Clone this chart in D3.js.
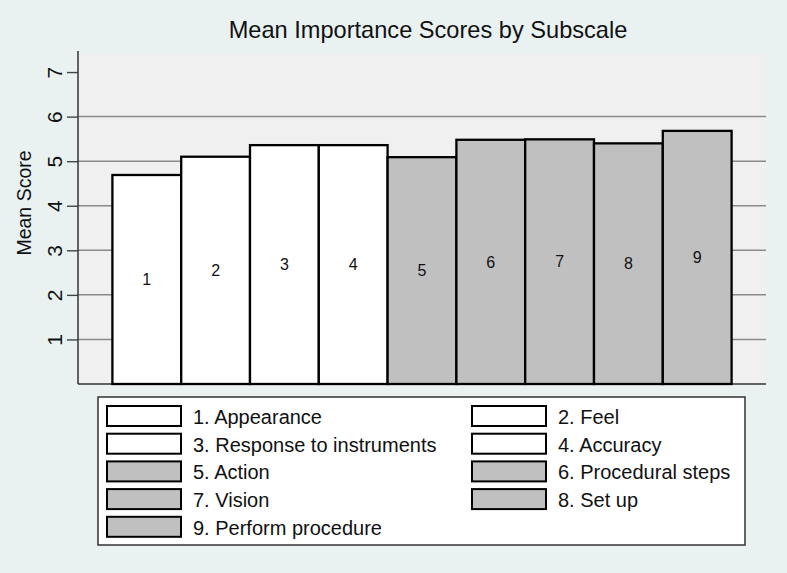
<!DOCTYPE html>
<html>
<head>
<meta charset="utf-8">
<script src="https://cdn.jsdelivr.net/npm/d3@7"></script>
<style>
  html, body { margin: 0; padding: 0; background: #e9f1f1; }
  svg { display: block; font-family: "Liberation Sans", Arial, Helvetica, sans-serif; }
</style>
</head>
<body>
<svg id="chart" width="787" height="573"></svg>
<script>
/* ------------------------------- data -------------------------------- */
const subscales  = ['Appearance', 'Feel', 'Response to instruments', 'Accuracy',
                    'Action', 'Procedural steps', 'Vision', 'Set up', 'Perform procedure'];
const meanScores = [4.69, 5.10, 5.36, 5.36, 5.09, 5.48, 5.49, 5.40, 5.68];
const groups     = ['first', 'first', 'first', 'first', 'second', 'second', 'second', 'second', 'second'];
const yTicks     = [1, 2, 3, 4, 5, 6, 7];
const gridTicks  = [1, 2, 3, 4, 5, 6];

const rows = subscales.map((name, i) => ({
  id: i + 1, name, value: meanScores[i], group: groups[i]
}));

/* ------------------------------- layout ------------------------------ */
const svg    = d3.select('#chart');
const PLOT   = {left: 78, right: 766, top: 52, bottom: 384};
const fillOf = d3.scaleOrdinal().domain(['first', 'second']).range(['#ffffff', '#c0c0c0']);

const xScale = d3.scaleBand()
  .domain(rows.map(d => d.id))
  .range([PLOT.left, PLOT.right])
  .paddingInner(0)
  .paddingOuter(0.5);
const yScale = d3.scaleLinear().domain([0, 7.45]).range([PLOT.bottom, PLOT.top]);

// plot region background
svg.append('rect')
  .attr('x', PLOT.left).attr('y', PLOT.top + 2)
  .attr('width', PLOT.right - PLOT.left).attr('height', PLOT.bottom - PLOT.top - 2)
  .attr('fill', '#f0f0f0');

// title
svg.append('text')
  .attr('x', 428).attr('y', 38)
  .attr('text-anchor', 'middle')
  .attr('font-size', 23.6)
  .attr('fill', '#111')
  .text('Mean Importance Scores by Subscale');

/* ------------------------------- axes & grid ------------------------- */
svg.append('g')
  .selectAll('line')
  .data(gridTicks)
  .join('line')
  .attr('x1', PLOT.left).attr('x2', PLOT.right)
  .attr('y1', d => yScale(d)).attr('y2', d => yScale(d))
  .attr('stroke', '#8a8a8a')
  .attr('stroke-width', 1.5);

const yAxisG = svg.append('g')
  .attr('transform', `translate(${PLOT.left},0)`)
  .call(d3.axisLeft(yScale).tickValues(yTicks).tickSize(11).tickPadding(4).tickFormat(d3.format('d')));
yAxisG.select('.domain').remove();
yAxisG.attr('font-size', null).attr('font-family', null);
yAxisG.selectAll('.tick line').attr('stroke', '#444').attr('stroke-width', 1.4);
yAxisG.selectAll('.tick text')
  .attr('x', null).attr('dy', null)
  .attr('text-anchor', 'middle')
  .attr('transform', 'translate(-16,0) rotate(-90)')
  .style('font-size', '21px')
  .attr('fill', '#111');

svg.append('line')
  .attr('x1', PLOT.left).attr('x2', PLOT.left)
  .attr('y1', PLOT.top - 1).attr('y2', PLOT.bottom)
  .attr('stroke', '#333').attr('stroke-width', 1.5);
svg.append('line')
  .attr('x1', PLOT.left).attr('x2', PLOT.right)
  .attr('y1', PLOT.bottom).attr('y2', PLOT.bottom)
  .attr('stroke', '#333').attr('stroke-width', 1.5);

svg.append('text')
  .attr('transform', 'translate(31,203) rotate(-90)')
  .attr('text-anchor', 'middle')
  .attr('font-size', 19.5)
  .attr('fill', '#111')
  .text('Mean Score');

/* ------------------------------- bars -------------------------------- */
const bars = svg.append('g');
bars.selectAll('rect')
  .data(rows)
  .join('rect')
  .attr('x', d => xScale(d.id))
  .attr('y', d => yScale(d.value))
  .attr('width', xScale.bandwidth())
  .attr('height', d => yScale(0) - yScale(d.value))
  .attr('fill', d => fillOf(d.group))
  .attr('stroke', '#000')
  .attr('stroke-width', 2.3);

bars.selectAll('text')
  .data(rows)
  .join('text')
  .attr('x', d => xScale(d.id) + xScale.bandwidth() / 2)
  .attr('y', d => (yScale(d.value) + yScale(0)) / 2)
  .attr('dy', '0.36em')
  .attr('text-anchor', 'middle')
  .attr('font-size', 16)
  .attr('fill', '#111')
  .text(d => d.id);

/* ------------------------------- legend ------------------------------ */
const LEG = {x: 98, y: 397, w: 647, h: 148};
const legend = svg.append('g');
legend.append('rect')
  .attr('x', LEG.x).attr('y', LEG.y)
  .attr('width', LEG.w).attr('height', LEG.h)
  .attr('fill', '#fff')
  .attr('stroke', '#333')
  .attr('stroke-width', 1.5);

const colX  = [107, 472];
const rowY  = i => 406 + Math.floor(i / 2) * 27.7;
const items = legend.selectAll('g.item')
  .data(rows)
  .join('g')
  .attr('class', 'item')
  .attr('transform', (d, i) => `translate(${colX[i % 2]},${rowY(i)})`);

items.append('rect')
  .attr('width', 74).attr('height', 20)
  .attr('fill', d => fillOf(d.group))
  .attr('stroke', '#000')
  .attr('stroke-width', 2);

items.append('text')
  .attr('x', 86).attr('y', 18)
  .attr('font-size', 20)
  .attr('fill', '#111')
  .text(d => `${d.id}. ${d.name}`);
</script>
</body>
</html>
